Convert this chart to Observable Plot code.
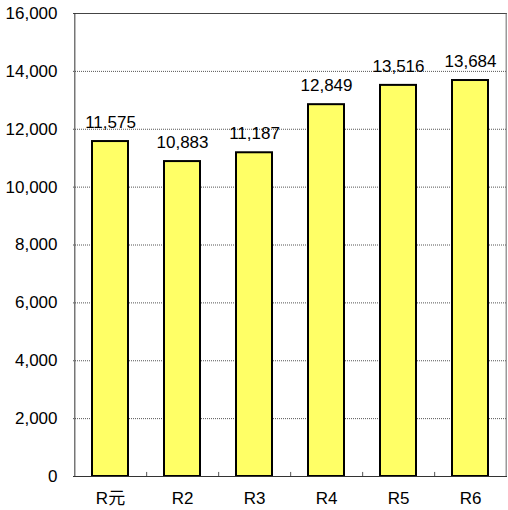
<!DOCTYPE html>
<html><head><meta charset="utf-8">
<script src="https://cdn.jsdelivr.net/npm/d3@7"></script>
<script src="https://cdn.jsdelivr.net/npm/@observablehq/plot@0.6"></script>
<style>body{margin:0;background:#fff;} svg{display:block;}</style>
</head><body><div id="chart"></div>
<script>
const categories = ["R元", "R2", "R3", "R4", "R5", "R6"];
const values = [11575, 10883, 11187, 12849, 13516, 13684];
const yTicks = [0, 2000, 4000, 6000, 8000, 10000, 12000, 14000, 16000];

const data = categories.map((c, i) => ({cat: c, value: values[i]}));
const W = 508, H = 510, mL = 73, mR = 1, mT = 13, mB = 34;
const bw = (W - mL - mR) / categories.length;
const font = "Liberation Sans, Arial, 'Noto Sans CJK JP', sans-serif";

const chart = Plot.plot({
  width: W, height: H,
  marginLeft: mL, marginRight: mR, marginTop: mT, marginBottom: mB,
  style: {fontFamily: font, fontSize: "17px", color: "#000", background: "#fff"},
  x: {domain: categories, paddingInner: 0.5, paddingOuter: 0.25, label: null},
  y: {domain: [0, 16000], label: null},
  marks: [
    Plot.gridY(yTicks, {stroke: "#555", strokeOpacity: 1, strokeDasharray: "1,1"}),
    Plot.barY(data, {x: "cat", y: "value", fill: "#FFFF66", stroke: "#000", strokeWidth: 2}),
    Plot.ruleX(categories.slice(0, -1), {x: d => d, y1: 0, y2: 140, dx: bw / 2, stroke: "#555"}),
    Plot.ruleY([16000], {stroke: "#444"}),
    Plot.ruleX([categories[categories.length - 1]], {dx: bw / 2 - 0.5, stroke: "#666"}),
    Plot.ruleX([categories[0]], {dx: -bw / 2 + 0.5, stroke: "#333"}),
    Plot.ruleY([0], {stroke: "#333"}),
    Plot.axisY(yTicks, {tickSize: 0, tickPadding: 16, tickFormat: d3.format(","), fontSize: 17}),
    Plot.axisX({tickSize: 0, tickPadding: 15, fontSize: 17}),
    Plot.text(data, {x: "cat", y: "value", text: d => d3.format(",")(d.value), dy: -19, fontSize: 17})
  ]
});
document.getElementById("chart").appendChild(chart);
</script></body></html>
